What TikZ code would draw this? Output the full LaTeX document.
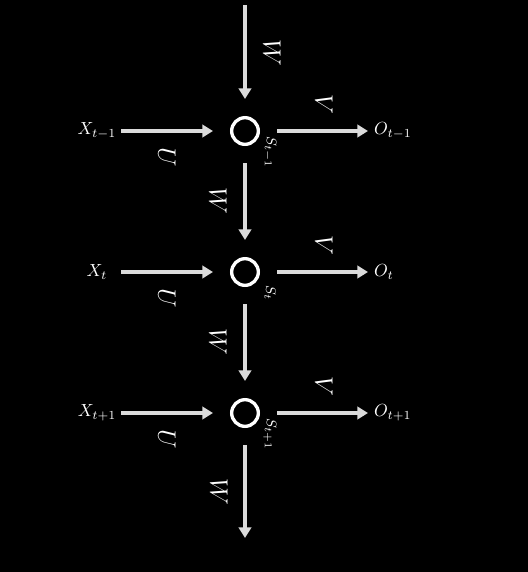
\documentclass[tikz,border=0pt]{standalone}
\usetikzlibrary{arrows.meta}
\tikzset{
  state/.style={circle, draw=white, line width=1.9pt, minimum size=15.2pt, inner sep=0pt},
  arr/.style={line width=2.2pt, draw=white!86!black, -{Triangle[width=7pt, length=6pt]}},
  fromstate/.style={shorten <=9.7pt},
  tostate/.style={shorten >=9.7pt},
  inlab/.style={minimum width=27.4pt, inner sep=0pt},
  outlab/.style={anchor=west},
  weight/.style={rotate=-90, font=\Large},
  statelab/.style={rotate=-90, font=\footnotesize}
}
\begin{document}
\begin{tikzpicture}[x=0.57pt, y=-0.57pt, every node/.style={text=white}]
  %Background
  \fill[black] (0,0) rectangle (528,572);
  \useasboundingbox (0,0) rectangle (528,572);
  %States
  \node[state] (s1) at (245,131) {};
  \node[state] (s2) at (245,272) {};
  \node[state] (s3) at (245,413) {};
  \node[statelab] (l1) at (270,152) {$S_{t-1}$};
  \node[statelab] (l2) at (270,293) {$S_{t}$};
  \node[statelab] (l3) at (270,434) {$S_{t+1}$};
  %Inputs and outputs
  \node[inlab] (x1) at (97,131) {$X_{t-1}$};
  \node[inlab] (x2) at (97,272) {$X_{t}$};
  \node[inlab] (x3) at (97,413) {$X_{t+1}$};
  \node[outlab] (o1) at (368,131) {$O_{t-1}$};
  \node[outlab] (o2) at (368,272) {$O_{t}$};
  \node[outlab] (o3) at (368,413) {$O_{t+1}$};
  %Free ends
  \coordinate (wtop) at (245,5);
  \coordinate (wbot) at (245,538);
  %Recurrent connectors
  \draw[arr, tostate] (wtop) -- (s1);
  \draw[arr, fromstate, tostate] (s1) -- (s2);
  \draw[arr, fromstate, tostate] (s2) -- (s3);
  \draw[arr, fromstate] (s3) -- (wbot);
  %Input and output connectors
  \draw[arr, tostate] (x1) -- (s1);
  \draw[arr, tostate] (x2) -- (s2);
  \draw[arr, tostate] (x3) -- (s3);
  \draw[arr, fromstate] (s1) -- (o1);
  \draw[arr, fromstate] (s2) -- (o2);
  \draw[arr, fromstate] (s3) -- (o3);
  %Weights
  \node[weight] (w0) at (272,53) {$W$};
  \node[weight] (w1) at (218,201) {$W$};
  \node[weight] (w2) at (218,342) {$W$};
  \node[weight] (w3) at (219,492) {$W$};
  \node[weight] (u1) at (167,157) {$U$};
  \node[weight] (u2) at (167,298) {$U$};
  \node[weight] (u3) at (167,439) {$U$};
  \node[weight] (v1) at (324,104) {$V$};
  \node[weight] (v2) at (324,245) {$V$};
  \node[weight] (v3) at (324,386) {$V$};
\end{tikzpicture}
\end{document}
